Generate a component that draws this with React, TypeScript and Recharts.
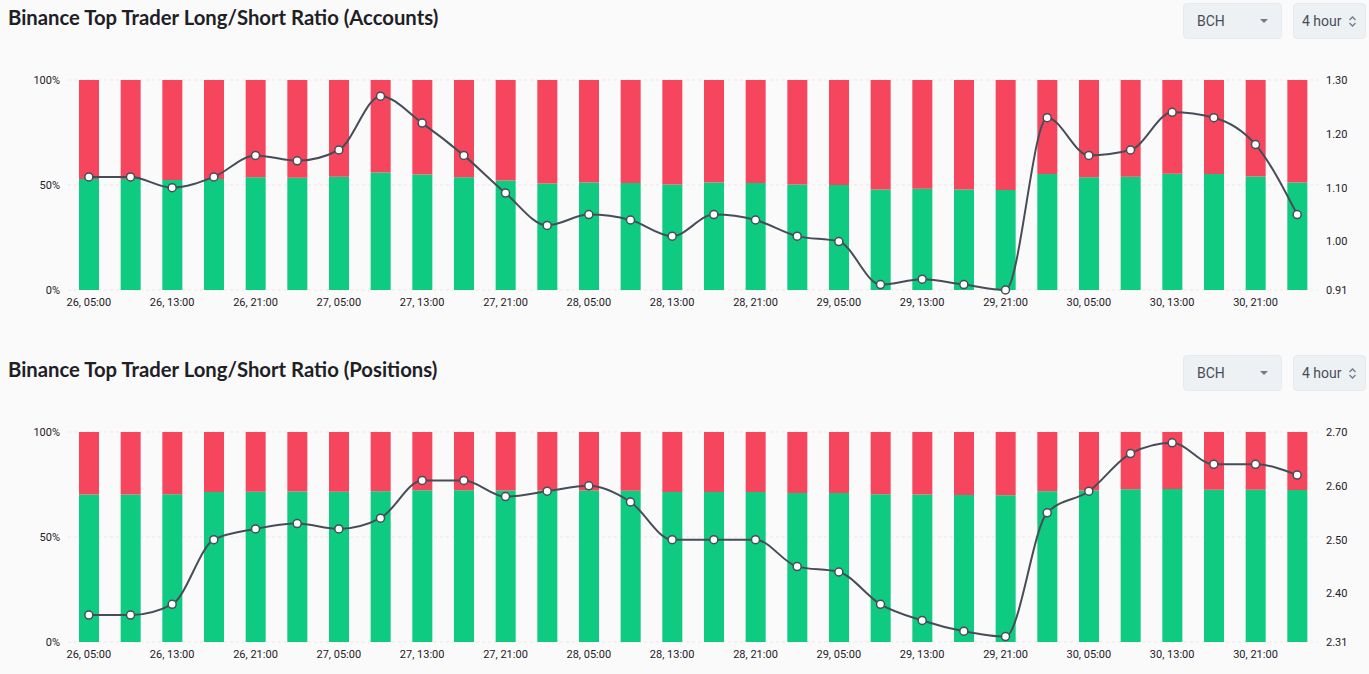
import React from 'react'
import { ComposedChart, Bar, Line, XAxis, YAxis, CartesianGrid } from 'recharts'

// 4h buckets, shared by both panels
const times = [
  '26, 05:00', '26, 09:00', '26, 13:00', '26, 17:00', '26, 21:00',
  '27, 01:00', '27, 05:00', '27, 09:00', '27, 13:00', '27, 17:00', '27, 21:00',
  '28, 01:00', '28, 05:00', '28, 09:00', '28, 13:00', '28, 17:00', '28, 21:00',
  '29, 01:00', '29, 05:00', '29, 09:00', '29, 13:00', '29, 17:00', '29, 21:00',
  '30, 01:00', '30, 05:00', '30, 09:00', '30, 13:00', '30, 17:00', '30, 21:00',
  '31, 01:00',
]

// Accounts
const accountsLong = [
  52.8, 52.8, 52.4, 52.8, 53.7, 53.5, 53.9, 56.0, 55.0, 53.7, 52.2, 50.7, 51.2, 51.0, 50.2,
  51.2, 51.0, 50.2, 50.0, 47.9, 48.2, 47.9, 47.6, 55.2, 53.7, 53.9, 55.4, 55.2, 54.1, 51.2,
]
const accountsShort = [
  47.2, 47.2, 47.6, 47.2, 46.3, 46.5, 46.1, 44.0, 45.0, 46.3, 47.8, 49.3, 48.8, 49.0, 49.8,
  48.8, 49.0, 49.8, 50.0, 52.1, 51.8, 52.1, 52.4, 44.8, 46.3, 46.1, 44.6, 44.8, 45.9, 48.8,
]
const accountsRatio = [
  1.12, 1.12, 1.1, 1.12, 1.16, 1.15, 1.17, 1.27, 1.22, 1.16, 1.09, 1.03, 1.05, 1.04, 1.01,
  1.05, 1.04, 1.01, 1.0, 0.92, 0.93, 0.92, 0.91, 1.23, 1.16, 1.17, 1.24, 1.23, 1.18, 1.05,
]
const accountsTicks = [0.91, 1.0, 1.1, 1.2, 1.3]

// Positions
const positionsLong = [
  70.2, 70.2, 70.4, 71.4, 71.6, 71.7, 71.6, 71.8, 72.3, 72.3, 72.1, 72.1, 72.2, 72.0, 71.4,
  71.4, 71.4, 71.0, 70.9, 70.4, 70.2, 70.0, 69.9, 71.8, 72.1, 72.7, 72.8, 72.5, 72.5, 72.4,
]
const positionsShort = [
  29.8, 29.8, 29.6, 28.6, 28.4, 28.3, 28.4, 28.2, 27.7, 27.7, 27.9, 27.9, 27.8, 28.0, 28.6,
  28.6, 28.6, 29.0, 29.1, 29.6, 29.8, 30.0, 30.1, 28.2, 27.9, 27.3, 27.2, 27.5, 27.5, 27.6,
]
const positionsRatio = [
  2.36, 2.36, 2.38, 2.5, 2.52, 2.53, 2.52, 2.54, 2.61, 2.61, 2.58, 2.59, 2.6, 2.57, 2.5,
  2.5, 2.5, 2.45, 2.44, 2.38, 2.35, 2.33, 2.32, 2.55, 2.59, 2.66, 2.68, 2.64, 2.64, 2.62,
]
const positionsTicks = [2.31, 2.4, 2.5, 2.6, 2.7]

const percentTicks = [0, 50, 100]

const GREEN = '#0ecb81'
const RED = '#f6465d'
const LINE = '#474d57'
const BG = '#fafafa'

const tickStyle = { fontSize: 11, fill: '#1e2026', fontFamily: 'Roboto, sans-serif' }

function buildRows(longs: number[], shorts: number[], ratios: number[]) {
  return times.map((time, i) => ({
    time,
    long: longs[i],
    short: shorts[i],
    ratio: ratios[i],
  }))
}

function Select({ label, width, icon }: { label: string; width: number; icon: 'caret' | 'updown' }) {
  return (
    <div
      style={{
        width,
        height: 36,
        boxSizing: 'border-box',
        background: '#eef1f4',
        border: '1px solid #e6e9ed',
        borderRadius: 4,
        display: 'flex',
        alignItems: 'center',
        justifyContent: 'space-between',
        padding: icon === 'caret' ? '0 12px 0 13px' : '0 8px 0 8px',
        fontFamily: 'Roboto, sans-serif',
        fontSize: 14,
        color: '#474d57',
      }}
    >
      <span>{label}</span>
      {icon === 'caret' ? (
        <svg width="10" height="6" viewBox="0 0 10 6">
          <path d="M1 1 L5 5 L9 1 Z" fill="#707a8a" />
        </svg>
      ) : (
        <svg width="9" height="13" viewBox="0 0 9 13">
          <path d="M1.5 5 L4.5 2 L7.5 5 M1.5 8 L4.5 11 L7.5 8" fill="none" stroke="#707a8a" strokeWidth="1.3" />
        </svg>
      )}
    </div>
  )
}

function RatioPanel({
  title,
  top,
  longs,
  shorts,
  ratios,
  ratioTicks,
}: {
  title: string
  top: number
  longs: number[]
  shorts: number[]
  ratios: number[]
  ratioTicks: number[]
}) {
  const data = buildRows(longs, shorts, ratios)
  return (
    <div style={{ position: 'absolute', left: 0, top, width: 1369, height: 352 }}>
      <div
        style={{
          position: 'absolute',
          left: 8,
          top: 4,
          fontFamily: 'Lato, sans-serif',
          fontWeight: 700,
          fontSize: 20.3,
          lineHeight: '26px',
          color: '#1e2026',
          whiteSpace: 'nowrap',
        }}
      >
        {title}
      </div>
      <div style={{ position: 'absolute', left: 1183, top: 3, display: 'flex', gap: 11 }}>
        <Select label="BCH" width={99} icon="caret" />
        <Select label="4 hour" width={73} icon="updown" />
      </div>
      <div style={{ position: 'absolute', left: 0, top: 50 }}>
        <ComposedChart width={1369} height={270} data={data} margin={{ top: 30, right: 0, bottom: 0, left: 0 }}>
          <CartesianGrid yAxisId="pct" vertical={false} strokeDasharray="3 3" stroke="#e9e9e9" />
          <XAxis
            dataKey="time"
            interval={1}
            tickLine={false}
            axisLine={false}
            tick={tickStyle}
            height={30}
          />
          <YAxis
            yAxisId="pct"
            orientation="left"
            domain={[0, 100]}
            ticks={percentTicks}
            tickFormatter={(v) => `${v}%`}
            tickLine={false}
            axisLine={false}
            tick={tickStyle}
            width={68}
          />
          <YAxis
            yAxisId="ratio"
            orientation="right"
            domain={[ratioTicks[0], ratioTicks[ratioTicks.length - 1]]}
            ticks={ratioTicks}
            tickFormatter={(v) => Number(v).toFixed(2)}
            tickLine={false}
            axisLine={false}
            tick={tickStyle}
            width={51}
          />
          <Bar yAxisId="pct" dataKey="long" stackId="ls" fill={GREEN} barSize={20} isAnimationActive={false} />
          <Bar yAxisId="pct" dataKey="short" stackId="ls" fill={RED} barSize={20} isAnimationActive={false} />
          <Line
            yAxisId="ratio"
            type="monotone"
            dataKey="ratio"
            stroke={LINE}
            strokeWidth={2}
            dot={{ r: 4, fill: '#ffffff', stroke: LINE, strokeWidth: 1.5 }}
            isAnimationActive={false}
          />
        </ComposedChart>
      </div>
    </div>
  )
}

export default function App() {
  return (
    <div style={{ position: 'absolute', left: 0, top: 0, width: 1369, height: 674, background: BG, overflow: 'hidden' }}>
      <RatioPanel
        title="Binance Top Trader Long/Short Ratio (Accounts)"
        top={0}
        longs={accountsLong}
        shorts={accountsShort}
        ratios={accountsRatio}
        ratioTicks={accountsTicks}
      />
      <RatioPanel
        title="Binance Top Trader Long/Short Ratio (Positions)"
        top={352}
        longs={positionsLong}
        shorts={positionsShort}
        ratios={positionsRatio}
        ratioTicks={positionsTicks}
      />
    </div>
  )
}
